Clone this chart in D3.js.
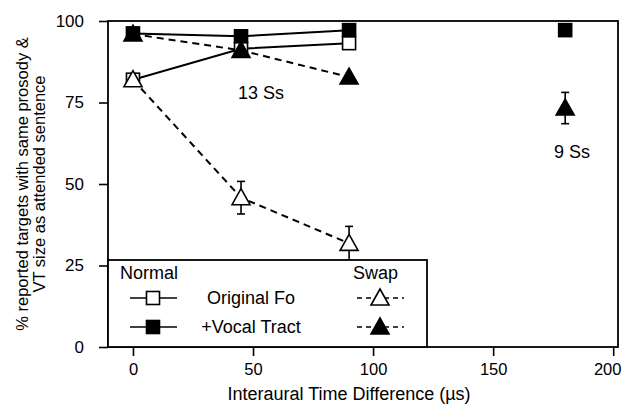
<!DOCTYPE html>
<html><head><meta charset="utf-8">
<script src="https://cdn.jsdelivr.net/npm/d3@7"></script>
<style>body{margin:0;background:#fff}svg{display:block}text{font-family:"Liberation Sans",Arial,sans-serif;fill:#000}</style>
</head><body><svg id="c" width="626" height="404"></svg>
<script>
const itd = [0, 45, 90];
const normalOrig = [82, 91.5, 93.2];
const normalVT = [96.2, 95.3, 97.2];
const swapOrig = [82, 45.8, 31.8];
const swapOrigErr = [1, 5, 5.2];
const swapVT = [96, 91, 82.8];
const extraX = [180];
const extraVT = [97.2];
const extraSwapVT = [73.3];
const extraSwapVTErr = [4.8];
const xTicks = [0, 50, 100, 150, 200];
const yTicks = [0, 25, 50, 75, 100];

const svg = d3.select("#c");
const x = d3.scaleLinear().domain([-10.4, 202]).range([108, 618]);
const y = d3.scaleLinear().domain([0, 100]).range([347, 21]);

svg.append("rect").attr("x",108).attr("y",21).attr("width",510).attr("height",326)
  .attr("fill","none").attr("stroke","#000").attr("stroke-width",1.8);

const xa = svg.append("g").attr("transform","translate(0,347)")
  .call(d3.axisBottom(x).tickValues(xTicks).tickSize(9).tickPadding(7).tickFormat(d3.format("d")));
xa.select(".domain").remove();
xa.selectAll("line").attr("stroke-width",1.6);
xa.selectAll("text").attr("font-size",16.5).style("font-family","Liberation Sans, Arial")
  .attr("dx",d=>d===200?-6:0);
const ya = svg.append("g").attr("transform","translate(108,0)")
  .call(d3.axisLeft(y).tickValues(yTicks).tickSize(9).tickPadding(15).tickFormat(d3.format("d")));
ya.select(".domain").remove();
ya.selectAll("line").attr("stroke-width",1.6);
ya.selectAll("text").attr("font-size",17).style("font-family","Liberation Sans, Arial");

svg.append("text").attr("x",349).attr("y",400).attr("text-anchor","middle").attr("font-size",18)
  .text("Interaural Time Difference (µs)");
const yl = svg.append("text").attr("transform","translate(28,184) rotate(-90)").attr("text-anchor","middle").attr("font-size",16.5);
yl.append("tspan").attr("x",0).attr("dy",0).text("% reported targets with same prosody &");
yl.append("tspan").attr("x",0).attr("dy",17).text("VT size as attended sentence");

const line = d3.line().x((d,i)=>x(itd[i])).y(d=>y(d));
function drawLine(vals, dashed){
  svg.append("path").datum(vals).attr("d",line).attr("fill","none").attr("stroke","#000")
    .attr("stroke-width",2).attr("stroke-dasharray",dashed?"7,5":null);
}
drawLine(swapOrig,true);
drawLine(swapVT,true);
drawLine(normalOrig,false);
drawLine(normalVT,false);

function errBars(xs, vals, errs){
  xs.forEach((xv,i)=>{
    const cx=x(xv), t=y(vals[i]+errs[i]), b=y(vals[i]-errs[i]);
    svg.append("line").attr("x1",cx).attr("x2",cx).attr("y1",t).attr("y2",b).attr("stroke","#000").attr("stroke-width",1.6);
    [t,b].forEach(yy=>svg.append("line").attr("x1",cx-4).attr("x2",cx+4).attr("y1",yy).attr("y2",yy).attr("stroke","#000").attr("stroke-width",1.6));
  });
}
errBars(itd, swapOrig, swapOrigErr);
errBars(extraX, extraSwapVT, extraSwapVTErr);

function square(cx,cy,filled){
  svg.append("rect").attr("x",cx-6.5).attr("y",cy-6.5).attr("width",13).attr("height",13)
    .attr("fill",filled?"#000":"#fff").attr("stroke","#000").attr("stroke-width",1.6);
}
function tri(cx,cy,filled){
  svg.append("path").attr("d",`M${cx},${cy-9}L${cx+9},${cy+7}L${cx-9},${cy+7}Z`)
    .attr("fill",filled?"#000":"#fff").attr("stroke","#000").attr("stroke-width",1.6);
}
normalOrig.forEach((v,i)=>square(x(itd[i]),y(v),false));
swapOrig.forEach((v,i)=>tri(x(itd[i]),y(v),false));
swapVT.forEach((v,i)=>tri(x(itd[i]),y(v),true));
normalVT.forEach((v,i)=>square(x(itd[i]),y(v),true));
extraVT.forEach((v,i)=>square(x(extraX[i]),y(v),true));
extraSwapVT.forEach((v,i)=>tri(x(extraX[i]),y(v),true));

svg.append("text").attr("x",261).attr("y",99).attr("text-anchor","middle").attr("font-size",18).text("13 Ss");
svg.append("text").attr("x",572).attr("y",158).attr("text-anchor","middle").attr("font-size",18).text("9 Ss");

const lg = svg.append("g");
lg.append("rect").attr("x",108).attr("y",260).attr("width",319).attr("height",87)
  .attr("fill","#fff").attr("stroke","#000").attr("stroke-width",1.8);
lg.append("text").attr("x",120).attr("y",279).attr("font-size",18).text("Normal");
lg.append("text").attr("x",353).attr("y",279).attr("font-size",18).text("Swap");
const rows=[{label:"Original Fo",filled:false,yy:298},{label:"+Vocal Tract",filled:true,yy:327}];
rows.forEach(r=>{
  lg.append("line").attr("x1",130).attr("x2",177).attr("y1",r.yy).attr("y2",r.yy).attr("stroke","#000").attr("stroke-width",1.6);
  lg.append("rect").attr("x",153-6.5).attr("y",r.yy-6.5).attr("width",13).attr("height",13)
    .attr("fill",r.filled?"#000":"#fff").attr("stroke","#000").attr("stroke-width",1.6);
  lg.append("text").attr("x",251).attr("y",r.yy+6).attr("text-anchor","middle").attr("font-size",18).text(r.label);
  lg.append("line").attr("x1",357).attr("x2",404).attr("y1",r.yy).attr("y2",r.yy).attr("stroke","#000").attr("stroke-width",1.6).attr("stroke-dasharray","5,4");
  lg.append("path").attr("d",`M380,${r.yy-9}L389,${r.yy+7}L371,${r.yy+7}Z`)
    .attr("fill",r.filled?"#000":"#fff").attr("stroke","#000").attr("stroke-width",1.6);
});
</script></body></html>
